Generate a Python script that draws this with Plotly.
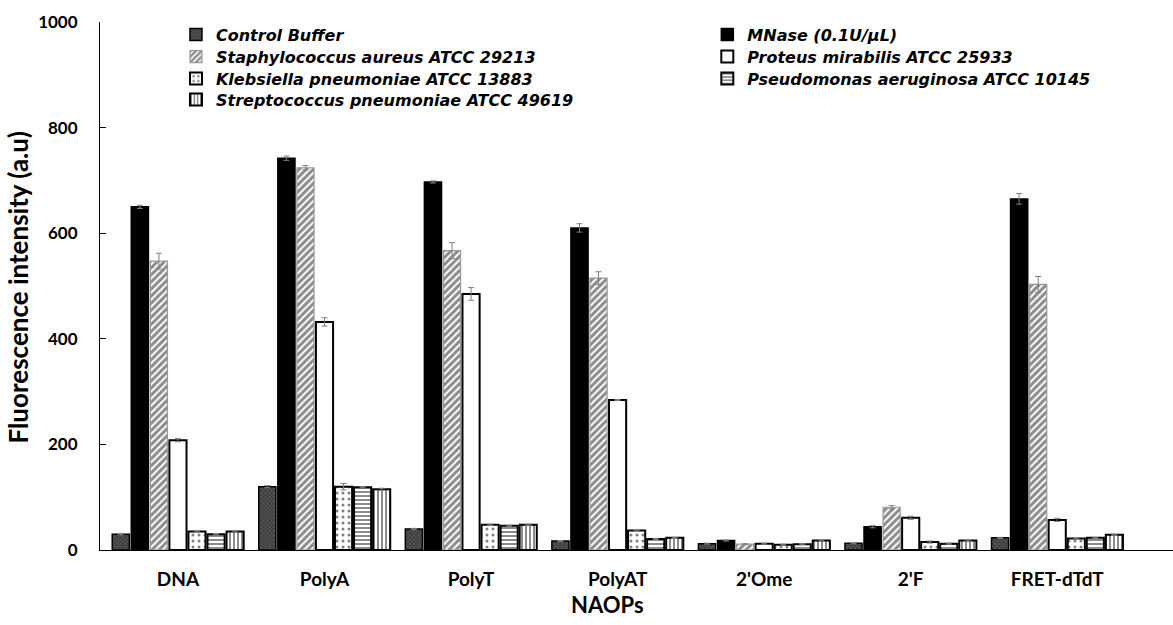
import plotly.graph_objects as go

categories = ["DNA", "PolyA", "PolyT", "PolyAT", "2'Ome", "2'F", "FRET-dTdT"]

series_names = [
    "Control Buffer",
    "MNase (0.1U/µL)",
    "Staphylococcus aureus ATCC 29213",
    "Proteus mirabilis ATCC 25933",
    "Klebsiella pneumoniae ATCC 13883",
    "Pseudomonas aeruginosa ATCC 10145",
    "Streptococcus pneumoniae ATCC 49619",
]

control_buffer = [30, 120, 40, 17, 12, 13, 23]
mnase = [650, 742, 697, 610, 18, 44, 665]
staph_aureus = [547, 724, 567, 515, 11, 81, 503]
proteus = [208, 432, 485, 284, 12, 61, 57]
klebsiella = [35, 120, 48, 37, 10, 15, 22]
pseudomonas = [30, 119, 46, 21, 11, 12, 23]
streptococcus = [35, 115, 48, 23, 18, 18, 29]

control_err = [1, 2, 1, 1, 1, 1, 1]
mnase_err = [3, 4, 2, 8, 1, 2, 10]
staph_err = [15, 4, 15, 12, 1, 3, 15]
proteus_err = [3, 8, 12, 1, 1, 3, 3]
kleb_err = [1, 6, 1, 1, 1, 2, 1]
pseudo_err = [1, 1, 1, 1, 1, 1, 1]
strep_err = [1, 2, 1, 1, 1, 1, 1]

values = [control_buffer, mnase, staph_aureus, proteus, klebsiella, pseudomonas, streptococcus]
errors = [control_err, mnase_err, staph_err, proteus_err, kleb_err, pseudo_err, strep_err]

styles = [
    dict(color="#3c3c3c", line=dict(color="#000", width=1.5),
         pattern=dict(shape="x", fgcolor="#a8a8a8", bgcolor="#3c3c3c", size=3, solidity=0.3)),
    dict(color="#000000", line=dict(color="#000", width=1.5)),
    dict(color="#ffffff", line=dict(color="#999999", width=1.2),
         pattern=dict(shape="/", fgcolor="#1a1a1a", bgcolor="#ffffff", size=5, solidity=0.6)),
    dict(color="#ffffff", line=dict(color="#000", width=2)),
    dict(color="#ffffff", line=dict(color="#000", width=2),
         pattern=dict(shape=".", fgcolor="#000000", bgcolor="#ffffff", size=6, solidity=0.2)),
    dict(color="#ffffff", line=dict(color="#000", width=2),
         pattern=dict(shape="-", fgcolor="#000000", bgcolor="#ffffff", size=4, solidity=0.45)),
    dict(color="#ffffff", line=dict(color="#000", width=2),
         pattern=dict(shape="|", fgcolor="#000000", bgcolor="#ffffff", size=4, solidity=0.45)),
]

# legend placement (column x in paper units, row top in paper units)
col_x = [0.0708, 0.566]
row_y = [1.0081, 0.9665, 0.9248, 0.8850]
legend_slots = [(0, 0), (1, 0), (0, 1), (1, 1), (0, 2), (1, 2), (0, 3)]

LEG_FONT = dict(family="DejaVu Sans", size=16, color="#000", weight="bold", style="italic")

fig = go.Figure()
legend_layout = {}
for i, (name, vals, errs, st, slot) in enumerate(zip(series_names, values, errors, styles, legend_slots)):
    lid = "legend" if i == 0 else f"legend{i + 1}"
    fig.add_trace(go.Bar(
        x=categories, y=vals, name=name, marker=st, legend=lid,
        error_y=dict(type="data", array=errs, visible=True, color="#808080",
                     thickness=1, width=3),
    ))
    legend_layout[lid] = dict(
        x=col_x[slot[0]], y=row_y[slot[1]], xanchor="left", yanchor="top",
        font=LEG_FONT, bgcolor="rgba(0,0,0,0)", itemwidth=30,
    )

FONT = "Lato"

fig.update_layout(
    width=1173, height=625,
    margin=dict(l=100, r=0, t=22, b=75),
    paper_bgcolor="white", plot_bgcolor="white",
    barmode="group", bargap=0.09, bargroupgap=0.1,
    font=dict(family=FONT, color="#000"),
    showlegend=True,
    xaxis=dict(
        type="category", range=[-0.532, 6.79],
        showline=True, linecolor="#000", linewidth=1,
        ticks="", showgrid=False, zeroline=False,
        tickfont=dict(family=FONT, size=19, color="#000", weight="bold"),
        ticklabelstandoff=12,
    ),
    yaxis=dict(
        range=[0, 1000], tickvals=[0, 200, 400, 600, 800, 1000],
        showline=True, linecolor="#000", linewidth=1,
        ticks="inside", ticklen=6, tickcolor="#000",
        showgrid=False, zeroline=False,
        tickfont=dict(family=FONT, size=17, color="#000", weight="bold"),
        ticklabelstandoff=18,
    ),
    annotations=[
        dict(text="Fluorescence intensity (a.u)", textangle=-90, xref="paper", yref="paper",
             x=-0.0764, y=0.497, xanchor="center", yanchor="middle", showarrow=False,
             font=dict(family=FONT, size=26, color="#000", weight="bold")),
        dict(text="NAOPs", xref="paper", yref="paper",
             x=0.4734, y=-0.104, xanchor="center", yanchor="middle", showarrow=False,
             font=dict(family=FONT, size=22, color="#000", weight="bold")),
    ],
    **legend_layout,
)

fig.write_html("out.html")
